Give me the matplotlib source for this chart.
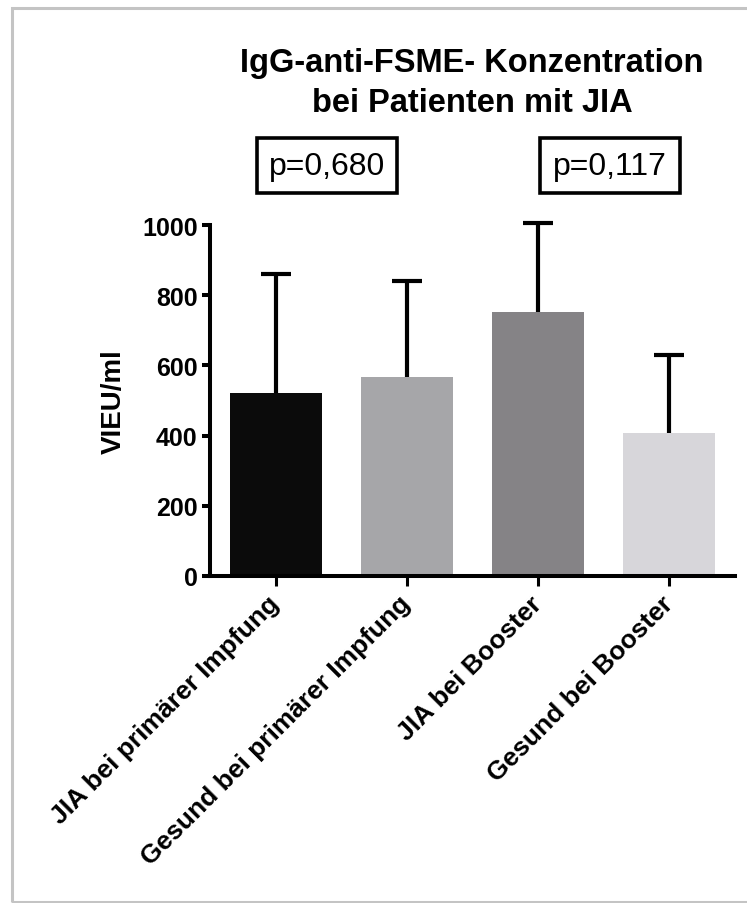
import numpy as np
import matplotlib
matplotlib.use("Agg")
import matplotlib.pyplot as plt
from matplotlib.patches import Rectangle

plt.rcParams['font.family'] = ['Liberation Sans', 'DejaVu Sans']

groups = ['JIA bei primärer Impfung', 'Gesund bei primärer Impfung',
          'JIA bei Booster', 'Gesund bei Booster']
means = [521, 567, 752, 407]
sd = [339, 273, 254, 223]
bar_colors = ['#0b0b0b', '#a6a6a9', '#858386', '#d7d6da']
p_values = ['p=0,680', 'p=0,117']
title_lines = ['IgG-anti-FSME- Konzentration', 'bei Patienten mit JIA']
yticks = [0, 200, 400, 600, 800, 1000]

W, H = 747, 904
fig = plt.figure(figsize=(W / 100, H / 100), dpi=100)


def fx(px):
    return px / W


def fy(py):
    return 1 - py / H


# outer frame of the screenshot (right edge lies outside the picture)
fig.patches.append(Rectangle((fx(12), fy(903)), fx(800), fy(9) - fy(903),
                             transform=fig.transFigure, fill=False,
                             edgecolor='#c4c4c4', linewidth=2.2))

ax = fig.add_axes([fx(210), fy(577), fx(735) - fx(210), fy(226) - fy(577)])
x = np.arange(len(groups))
ax.bar(x, means, width=0.7, color=bar_colors, zorder=2)
# upper error bars only (SD)
eb = ax.errorbar(x, means, yerr=[np.zeros(len(sd)), sd], fmt='none', ecolor='black',
                 elinewidth=3, capsize=10.8, capthick=3, zorder=1)
eb[1][0].set_visible(False)
eb[1][1].set_clip_on(False)
for lc in eb[2]:
    lc.set_clip_on(False)

ax.set_xlim(-0.5, 3.5)
ax.set_ylim(0, 1000)
ax.set_yticks(yticks)
ax.set_yticklabels([str(t) for t in yticks], fontsize=18, fontweight='bold')
ax.set_xticks(x)
ax.set_xticklabels(groups, rotation=45, ha='right', va='center',
                   rotation_mode='anchor', fontsize=19, fontweight='bold')
ax.tick_params(axis='y', length=6, width=2.9, pad=3)
ax.tick_params(axis='x', length=7, width=2.2, pad=10)
ax.set_ylabel('VIEU/ml', fontsize=20, fontweight='bold', labelpad=11)
for side in ['top', 'right']:
    ax.spines[side].set_visible(False)
for side in ['left', 'bottom']:
    ax.spines[side].set_linewidth(2.9)

# title
fig.text(fx(472), fy(72), title_lines[0], ha='center', va='baseline',
         fontsize=23.5, fontweight='bold')
fig.text(fx(472), fy(112), title_lines[1], ha='center', va='baseline',
         fontsize=23.5, fontweight='bold')

# p-value boxes
for (x0, x1), p in zip([(257, 397), (540, 680)], p_values):
    fig.patches.append(Rectangle((fx(x0), fy(194)), fx(x1 - x0), fy(139) - fy(194),
                                 transform=fig.transFigure, fill=False,
                                 edgecolor='black', linewidth=2.6))
    fig.text(fx((x0 + x1) / 2), fy(167), p, ha='center', va='center', fontsize=23)

fig.savefig('out.png', dpi=100)
